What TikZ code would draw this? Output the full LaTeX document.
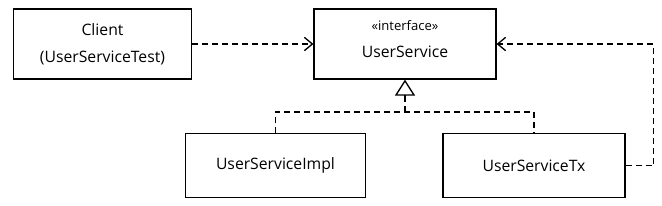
\documentclass[tikz,border=0pt]{standalone}
\usepackage{fontspec}
\setmainfont{Open Sans}
\usetikzlibrary{arrows.meta,positioning}

\begin{document}
\begin{tikzpicture}[x=0.75pt,y=-0.75pt,
  cls/.style={draw,line width=0.9pt,inner sep=0pt,align=center,font=\fontsize{11.8}{20}\selectfont},
  dep/.style={dashed,line width=1.1pt,dash pattern=on 4.5pt off 3pt,-{Straight Barb[length=6pt,width=10pt,line width=1pt]}},
  real/.style={dashed,line width=1.1pt,dash pattern=on 4.5pt off 3pt},
  gen/.style={line width=1.1pt,-{Triangle[open,length=12pt,width=15pt,line width=1pt]}}]
\useasboundingbox (0,0) rectangle (662,205);
% classes
\node[cls,minimum width=134pt,minimum height=52.5pt] (client) at (102.5,44) {Client\\(UserServiceTest)};
\node[cls,minimum width=136.5pt,minimum height=52.5pt] (iface) at (405,44)
  {{\fontsize{9.8}{10}\selectfont «interface»}\\UserService\\[-12pt]\mbox{}};
\node[cls,minimum width=135.5pt,minimum height=47.5pt] (impl) at (275.5,165.5) {UserServiceImpl};
\node[cls,minimum width=136.5pt,minimum height=47.5pt] (tx) at (534,165.5) {UserServiceTx};
% dependencies
\draw[dep] (client) -- (iface);
\draw[dep] (tx.east) -- ++(28,0) |- (iface.east);
% realization
\coordinate (join) at (405,112);
\draw[real] (impl.north) |- (join) -| (tx.north);
\draw[real] (join) -- ++(0,-14) coordinate (tip);
\draw[gen] (tip) -- (iface.south);
\end{tikzpicture}
\end{document}
